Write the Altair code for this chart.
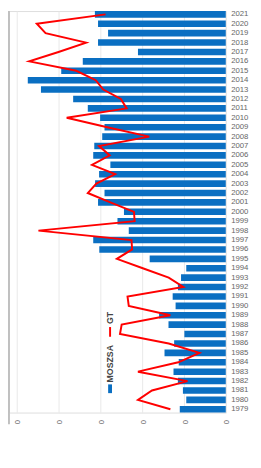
import altair as alt
import pandas as pd

years = list(range(1979, 2022))
moszsa = [2.2, 1.89, 2.05, 2.29, 2.5, 2.25, 2.93, 2.47, 1.98, 2.74,
          3.19, 2.4, 2.54, 2.29, 2.14, 1.89, 3.64, 6.05, 6.34, 4.64,
          5.18, 4.87, 6.11, 5.8, 6.25, 6.06, 5.52, 6.34, 6.29, 5.91,
          5.8, 6.01, 6.6, 7.3, 8.84, 9.47, 7.87, 6.84, 4.2, 6.11,
          5.63, 6.11, 6.26]
gt = [2.65, 4.2, 3.53, 1.83, 4.2, 2.27, 1.26, 2.73, 5.06, 4.98,
      2.65, 4.64, 4.7, 2.03, 2.73, 3.97, 5.21, 4.48, 4.51, 8.96,
      4.36, 4.39, 5.52, 6.6, 6.19, 5.29, 6.4, 5.55, 6.06, 3.66,
      5.67, 7.61, 4.74, 5.02, 5.86, 6.22, 7.15, 9.4, 8.0, 6.68,
      8.62, 9.04, 5.75]
tick_vals = list(range(0, 11))

df = pd.DataFrame({"year": years, "MOSZSA": moszsa, "GT": gt})
one = pd.DataFrame({"a": [0]})

BLUE = "#0a6fc2"
RED = "#ff0000"

xscale = alt.Scale(domain=[0, 10.37], reverse=True, nice=False, zero=True)
yscale = alt.Scale(paddingInner=0.3, paddingOuter=0)
ysort = alt.EncodingSortField("year", order="descending")

bars = alt.Chart(df).mark_bar(color=BLUE).encode(
    x=alt.X("MOSZSA:Q", scale=xscale,
            axis=alt.Axis(values=tick_vals, labelExpr="'0'", labelAngle=90,
                          ticks=False, domain=False, labelPadding=7,
                          labelFontSize=8, labelColor="#666666",
                          gridColor="#e8e8e8", title=None)),
    y=alt.Y("year:O", sort="descending", scale=yscale,
            axis=alt.Axis(orient="right", ticks=False, domain=False,
                          labelPadding=5, labelFontSize=8,
                          labelColor="#666666", title=None, grid=False)),
)

line = alt.Chart(df).mark_line(color=RED, strokeWidth=2).encode(
    x=alt.X("GT:Q", scale=xscale),
    y=alt.Y("year:O", sort="descending", scale=yscale),
    order=alt.Order("year:Q"),
)

left_rule = alt.Chart(one).mark_rule(color="#c0c0c0", strokeWidth=2).encode(
    x=alt.value(0), y=alt.value(0), y2=alt.value(425)
)

gt_text = alt.Chart(one).mark_text(
    text="GT", angle=270, align="left", baseline="middle",
    fontSize=9, fontWeight="bold", color="#444444"
).encode(x=alt.value(104), y=alt.value(322))

gt_swatch = alt.Chart(one).mark_rule(color=RED, strokeWidth=2).encode(
    x=alt.value(104), y=alt.value(325), y2=alt.value(335)
)

m_text = alt.Chart(one).mark_text(
    text="MOSZSA", angle=270, align="left", baseline="middle",
    fontSize=9, fontWeight="bold", color="#444444"
).encode(x=alt.value(104), y=alt.value(382))

m_swatch = alt.Chart(one).mark_rect(color=BLUE).encode(
    x=alt.value(102), x2=alt.value(106), y=alt.value(384), y2=alt.value(393)
)

chart = alt.layer(bars, line, left_rule, gt_text, gt_swatch, m_text, m_swatch).properties(
    width=223, height=413,
    autosize=alt.AutoSizeParams(type="none"),
    padding={"left": 1, "top": -3, "right": 28, "bottom": 20},
).configure_view(stroke=None).configure(font="Liberation Sans")

chart.save("out.html", embed_options={"renderer": "svg", "actions": False})
